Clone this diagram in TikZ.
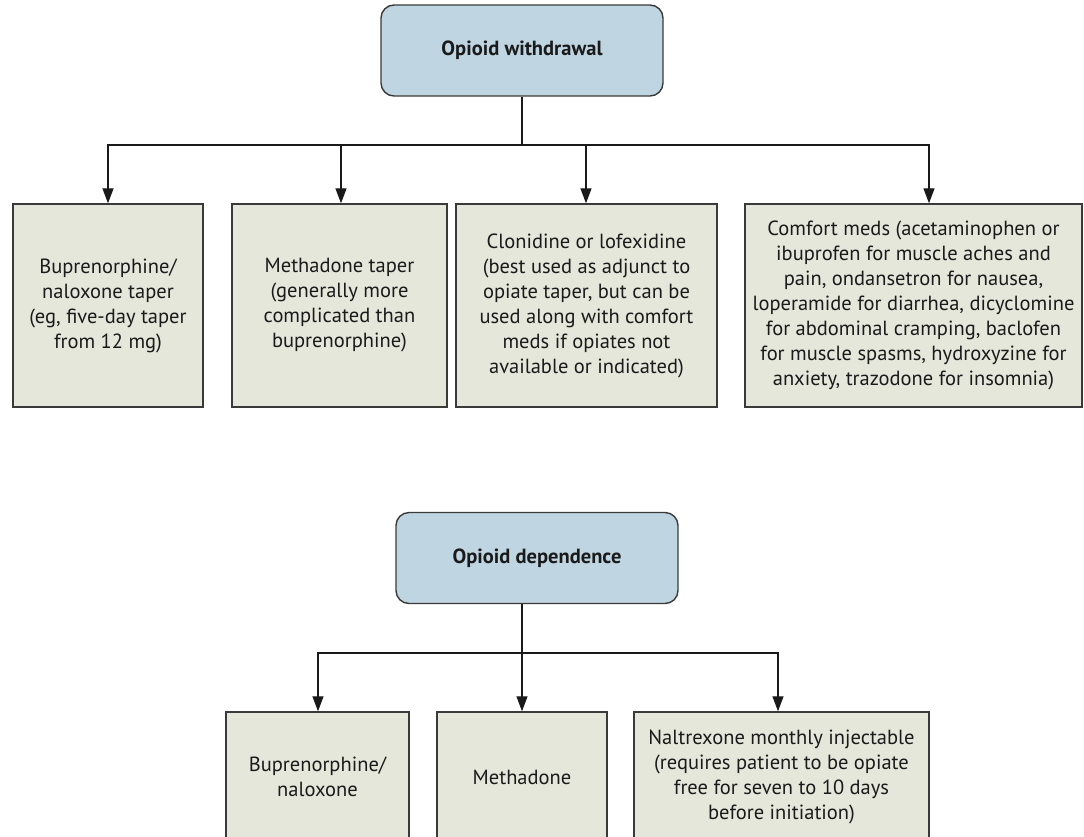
\documentclass[tikz,border=0pt]{standalone}
\usepackage{fontspec}
\setmainfont{PT Sans}
\usetikzlibrary{arrows.meta}
\definecolor{headfill}{HTML}{BFD5E1}
\definecolor{boxfill}{HTML}{E6E7DB}
\definecolor{edge}{HTML}{3A3A3A}
\definecolor{ink}{HTML}{1A1A1A}
\begin{document}
\begin{tikzpicture}[x=1pt,y=-1pt,
  headbox/.style={draw=edge,line width=1.4pt,fill=headfill,rounded corners=13pt,
    minimum width=282pt,minimum height=91pt,inner sep=0pt,
    font=\fontsize{20.5}{22}\selectfont\bfseries,text=ink},
  itembox/.style={draw=edge,line width=1.4pt,fill=boxfill,inner sep=0pt,
    align=center,font=\fontsize{20.5}{25}\selectfont,text=ink},
  link/.style={draw=ink,line width=1.3pt},
  arr/.style={link,-{Triangle[length=15pt,width=11pt]}}]
\useasboundingbox (0,0) rectangle (1084,836);
\clip (0,0) rectangle (1084,836);

% Opioid withdrawal branch
\node[headbox] (withdrawal) at (522,50.5) {Opioid withdrawal};
\node[itembox,minimum width=190pt,minimum height=203pt] (bupTaper) at (108,305.5)
  {Buprenorphine/\\naloxone taper\\(eg, five-day taper\\from 12 mg)};
\node[itembox,minimum width=215pt,minimum height=203pt] (methTaper) at (339.5,305.5)
  {Methadone taper\\(generally more\\complicated than\\buprenorphine)};
\node[itembox,minimum width=261pt,minimum height=203pt] (clonidine) at (586.5,305.5)
  {Clonidine or lofexidine\\(best used as adjunct to\\opiate taper, but can be\\used along with comfort\\meds if opiates not\\available or indicated)};
\node[itembox,minimum width=337pt,minimum height=203pt] (comfort) at (913.5,305.5)
  {Comfort meds (acetaminophen or\\ibuprofen for muscle aches and\\pain, ondansetron for nausea,\\loperamide for diarrhea, dicyclomine\\for abdominal cramping, baclofen\\for muscle spasms, hydroxyzine for\\anxiety, trazodone for insomnia)};

\coordinate (wbus) at (522,145);
\draw[link] (withdrawal.south) -- (wbus);
\draw[arr] (wbus) -| (bupTaper.north);
\draw[arr] (wbus) -| ([xshift=1.5pt]methTaper.north);
\draw[arr] (wbus) -| ([xshift=-0.5pt]clonidine.north);
\draw[arr] (wbus) -| ([xshift=15.5pt]comfort.north);

% Opioid dependence branch
\node[headbox] (dependence) at (537,558) {Opioid dependence};
\node[itembox,minimum width=183pt,minimum height=130pt] (bupNal) at (317.5,777)
  {Buprenorphine/\\naloxone};
\node[itembox,minimum width=170pt,minimum height=130pt] (methadone) at (522,777)
  {Methadone};
\node[itembox,minimum width=295pt,minimum height=130pt] (naltrexone) at (781.5,777)
  {Naltrexone monthly injectable\\(requires patient to be opiate\\free for seven to 10 days\\before initiation)};

\coordinate (dtop) at ([xshift=-15pt]dependence.south);
\coordinate (dbus) at (522,653);
\draw[link] (dtop) -- (dbus);
\draw[arr] (dbus) -| ([xshift=0.5pt]bupNal.north);
\draw[arr] (dbus) -- (methadone.north);
\draw[arr] (dbus) -| ([xshift=-3.5pt]naltrexone.north);
\end{tikzpicture}
\end{document}
